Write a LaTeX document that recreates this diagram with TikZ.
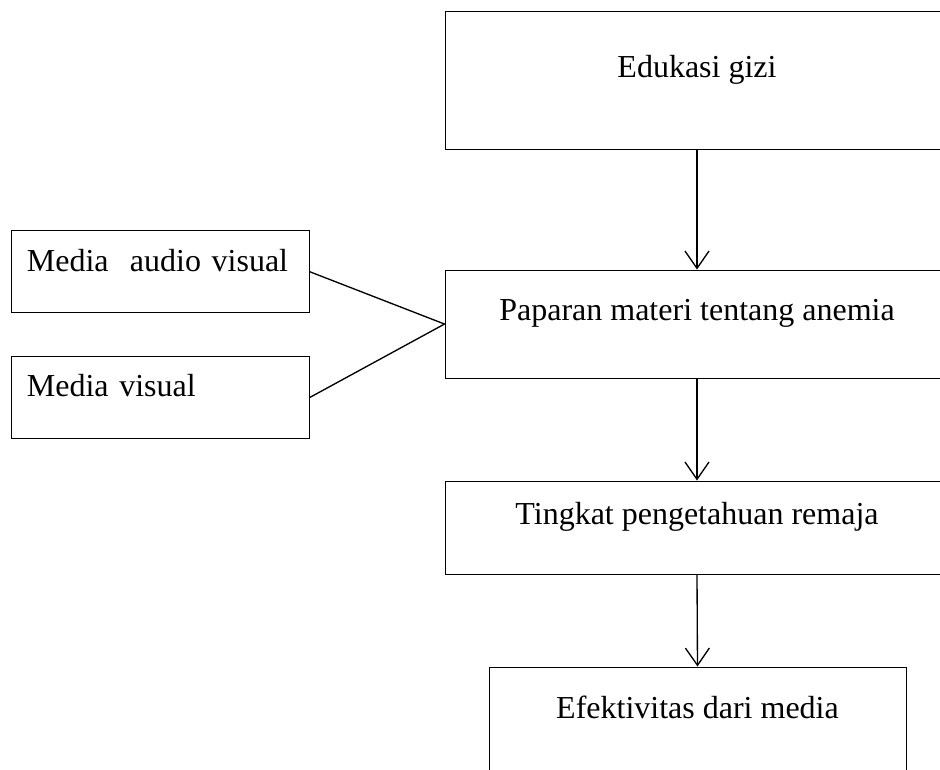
\documentclass[tikz,border=0pt]{standalone}
\usepackage{fontspec}
\setmainfont{Liberation Serif}
\usetikzlibrary{arrows.meta}
\begin{document}
\begin{tikzpicture}[x=0.75pt, y=-0.75pt,
   box/.style={draw, line width=0.75pt, inner sep=0pt,
     font=\fontsize{24pt}{28pt}\selectfont},
   mainbox/.style={box, minimum width=378pt},
   sidebox/.style={box, inner xsep=11.75pt, text width=200pt, align=left},
   >={Straight Barb[length=13pt,width=18pt]}]
   \useasboundingbox (0,0) rectangle (940,769);
   \clip (0,0) rectangle (940,769);
   \node[mainbox, text height=49.5pt, text depth=54pt, anchor=base] (edu) at (697,77) {Edukasi gizi};
   \node[mainbox, text height=38pt, text depth=43pt, anchor=base] (pap) at (697,320.7) {Paparan materi tentang anemia};
   \node[mainbox, text height=32.25pt, text depth=37.7pt, anchor=base] (tin) at (697,524) {Tingkat pengetahuan remaja};
   \node[box, minimum width=312.75pt, text height=38.25pt, text depth=60pt, anchor=base] (efe) at (697.5,718) {Efektivitas dari media};
   \node[sidebox, text height=30.75pt, text depth=30.75pt, anchor=base west] (mav) at (10.7,271.7) {Media\ \ audio visual};
   \node[sidebox, text height=30.5pt, text depth=31.7pt, anchor=base west] (mv) at (10.7,396.7) {Media visual};

   \foreach \a/\b in {edu/pap, pap/tin, tin/efe}
     \draw[->, line width=1pt] (\a.south) -- (\b.north);
   \draw[line width=1pt] (mav.east) -- (pap.west) -- (mv.east);
\end{tikzpicture}
\end{document}
